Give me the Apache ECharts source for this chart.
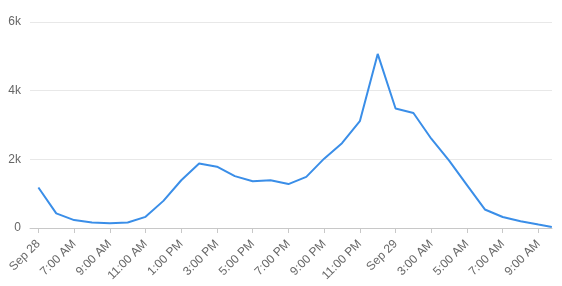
<!DOCTYPE html>
<html>
<head>
<meta charset="utf-8">
<script src="https://cdn.jsdelivr.net/npm/echarts@6/dist/echarts.min.js"></script>
<style>
html,body{margin:0;padding:0;background:#fff;}
#c{width:562px;height:286px;}
</style>
</head>
<body>
<div id="c"></div>
<script>
// hours from first point
var hours = [0,1,2,3,4,5,6,7,8,9,10,11,12,13,14,15,16,17,18,19,20,21,22,23,24,25,26,27,28,28.75];
var values = [1180,425,230,160,140,160,325,790,1390,1880,1785,1510,1360,1390,1280,1490,2020,2470,3110,5070,3480,3350,2600,1960,1250,540,320,195,100,30];
var tickHours = [0,2,4,6,8,10,12,14,16,18,20,22,24,26,28];
var tickLabels = ['Sep 28','7:00 AM','9:00 AM','11:00 AM','1:00 PM','3:00 PM','5:00 PM','7:00 PM','9:00 PM','11:00 PM','Sep 29','3:00 AM','5:00 AM','7:00 AM','9:00 AM'];
var yTicks = [0,2000,4000,6000];

var data = hours.map(function(h,i){return [h, values[i]];});
var chart = echarts.init(document.getElementById('c'), null, {renderer:'canvas'});
chart.setOption({
  animation:false,
  grid:{left:30,right:10,top:22,bottom:58,containLabel:false},
  xAxis:{
    type:'value',
    min:-0.47, max:28.76,
    axisLine:{show:true,lineStyle:{color:'#c8c8c8',width:1}},
    axisTick:{show:true,length:5,lineStyle:{color:'#c8c8c8'},customValues:tickHours},
    splitLine:{show:false},
    axisLabel:{
      customValues:tickHours,
      rotate:45,
      margin:14,
      hideOverlap:false,
      overflow:'none',
      color:'#666',
      fontSize:12,
      fontFamily:'Arial, Liberation Sans, sans-serif',
      formatter:function(v){
        var idx = tickHours.indexOf(Math.round(v));
        return idx>=0 ? tickLabels[idx] : '';
      }
    }
  },
  yAxis:{
    type:'value',
    min:0,max:6000,interval:2000,
    axisLine:{show:false},
    axisTick:{show:false},
    splitLine:{lineStyle:{color:'#e8e8e8',width:1}},
    axisLabel:{
      margin:9,
      color:'#666',
      fontSize:12,
      fontFamily:'Arial, Liberation Sans, sans-serif',
      formatter:function(v){return v===0?'0':(v/1000)+'k';}
    }
  },
  series:[{
    type:'line',
    data:data,
    showSymbol:false,
    symbol:'none',
    lineStyle:{color:'#3a8ee8',width:2},
    z:3
  }]
});
</script>
</body>
</html>
